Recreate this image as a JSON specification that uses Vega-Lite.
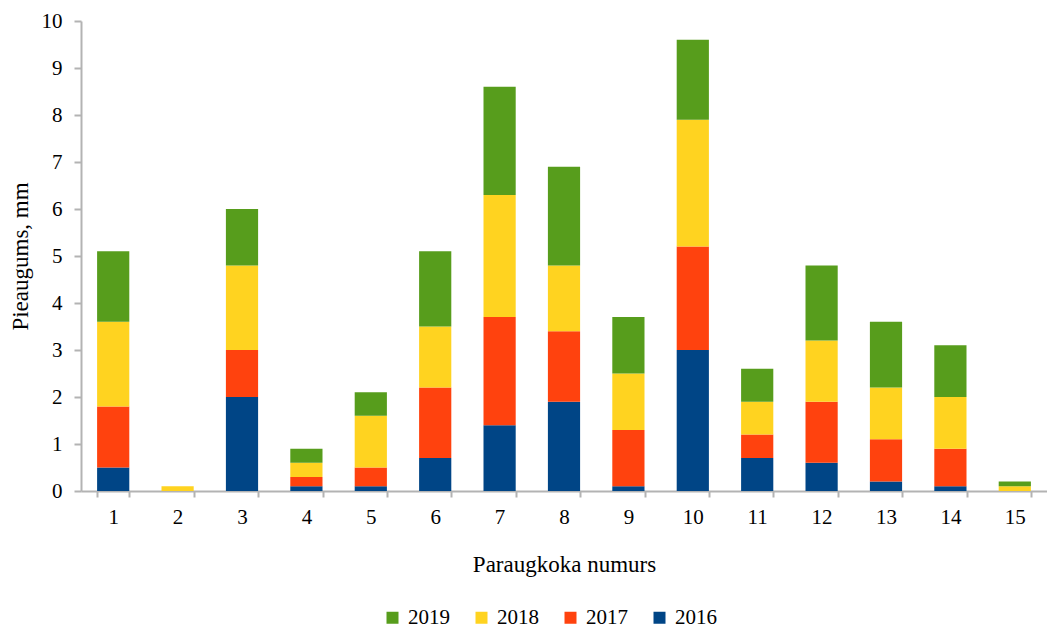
{
  "$schema": "https://vega.github.io/schema/vega-lite/v6.json",
  "autosize": "none",
  "width": 966,
  "height": 470,
  "padding": {"left": 81, "top": 21, "right": 0, "bottom": 137},
  "background": "white",
  "config": {
    "view": {"stroke": null},
    "font": "Liberation Serif",
    "axis": {"labelFont": "Liberation Serif", "titleFont": "Liberation Serif", "labelColor": "black", "titleColor": "black", "titleFontWeight": "normal", "domainColor": "#b3b3b3", "tickColor": "#b3b3b3", "grid": false, "labelFontSize": 21, "titleFontSize": 23, "domainWidth": 2, "tickWidth": 2},
    "legend": {"labelFont": "Liberation Serif", "labelFontSize": 21, "labelColor": "black"}
  },
  "data": {
    "values": [
      {"n": 1, "year": "2016", "v": 0.5}, {"n": 1, "year": "2017", "v": 1.3}, {"n": 1, "year": "2018", "v": 1.8}, {"n": 1, "year": "2019", "v": 1.5},
      {"n": 2, "year": "2016", "v": 0}, {"n": 2, "year": "2017", "v": 0}, {"n": 2, "year": "2018", "v": 0.1}, {"n": 2, "year": "2019", "v": 0},
      {"n": 3, "year": "2016", "v": 2.0}, {"n": 3, "year": "2017", "v": 1.0}, {"n": 3, "year": "2018", "v": 1.8}, {"n": 3, "year": "2019", "v": 1.2},
      {"n": 4, "year": "2016", "v": 0.1}, {"n": 4, "year": "2017", "v": 0.2}, {"n": 4, "year": "2018", "v": 0.3}, {"n": 4, "year": "2019", "v": 0.3},
      {"n": 5, "year": "2016", "v": 0.1}, {"n": 5, "year": "2017", "v": 0.4}, {"n": 5, "year": "2018", "v": 1.1}, {"n": 5, "year": "2019", "v": 0.5},
      {"n": 6, "year": "2016", "v": 0.7}, {"n": 6, "year": "2017", "v": 1.5}, {"n": 6, "year": "2018", "v": 1.3}, {"n": 6, "year": "2019", "v": 1.6},
      {"n": 7, "year": "2016", "v": 1.4}, {"n": 7, "year": "2017", "v": 2.3}, {"n": 7, "year": "2018", "v": 2.6}, {"n": 7, "year": "2019", "v": 2.3},
      {"n": 8, "year": "2016", "v": 1.9}, {"n": 8, "year": "2017", "v": 1.5}, {"n": 8, "year": "2018", "v": 1.4}, {"n": 8, "year": "2019", "v": 2.1},
      {"n": 9, "year": "2016", "v": 0.1}, {"n": 9, "year": "2017", "v": 1.2}, {"n": 9, "year": "2018", "v": 1.2}, {"n": 9, "year": "2019", "v": 1.2},
      {"n": 10, "year": "2016", "v": 3.0}, {"n": 10, "year": "2017", "v": 2.2}, {"n": 10, "year": "2018", "v": 2.7}, {"n": 10, "year": "2019", "v": 1.7},
      {"n": 11, "year": "2016", "v": 0.7}, {"n": 11, "year": "2017", "v": 0.5}, {"n": 11, "year": "2018", "v": 0.7}, {"n": 11, "year": "2019", "v": 0.7},
      {"n": 12, "year": "2016", "v": 0.6}, {"n": 12, "year": "2017", "v": 1.3}, {"n": 12, "year": "2018", "v": 1.3}, {"n": 12, "year": "2019", "v": 1.6},
      {"n": 13, "year": "2016", "v": 0.2}, {"n": 13, "year": "2017", "v": 0.9}, {"n": 13, "year": "2018", "v": 1.1}, {"n": 13, "year": "2019", "v": 1.4},
      {"n": 14, "year": "2016", "v": 0.1}, {"n": 14, "year": "2017", "v": 0.8}, {"n": 14, "year": "2018", "v": 1.1}, {"n": 14, "year": "2019", "v": 1.1},
      {"n": 15, "year": "2016", "v": 0}, {"n": 15, "year": "2017", "v": 0}, {"n": 15, "year": "2018", "v": 0.1}, {"n": 15, "year": "2019", "v": 0.1}
    ]
  },
  "mark": {"type": "bar"},
  "encoding": {
    "x": {
      "field": "n", "type": "ordinal", "title": "Paraugkoka numurs",
      "scale": {"paddingInner": 0.5, "paddingOuter": 0.25},
      "axis": {"labelAngle": 0, "tickBand": "extent", "tickSize": 6, "labelPadding": 9, "titlePadding": 26}
    },
    "y": {
      "field": "v", "type": "quantitative", "stack": "zero", "title": "Pieaugums, mm",
      "scale": {"domain": [0, 10], "nice": false},
      "axis": {"values": [0,1,2,3,4,5,6,7,8,9,10], "tickSize": 7, "labelPadding": 12, "titlePadding": 9}
    },
    "color": {
      "field": "year", "type": "nominal",
      "scale": {"domain": ["2019", "2018", "2017", "2016"], "range": ["#579d1c", "#ffd320", "#ff420e", "#004586"]},
      "legend": {"title": null, "orient": "none", "direction": "horizontal", "legendX": 301, "legendY": 586, "symbolType": "square", "symbolSize": 144, "symbolStrokeWidth": 0, "symbolOpacity": 1, "labelOffset": 5, "columnPadding": 21}
    },
    "order": {"field": "year", "sort": "ascending"}
  }
}
